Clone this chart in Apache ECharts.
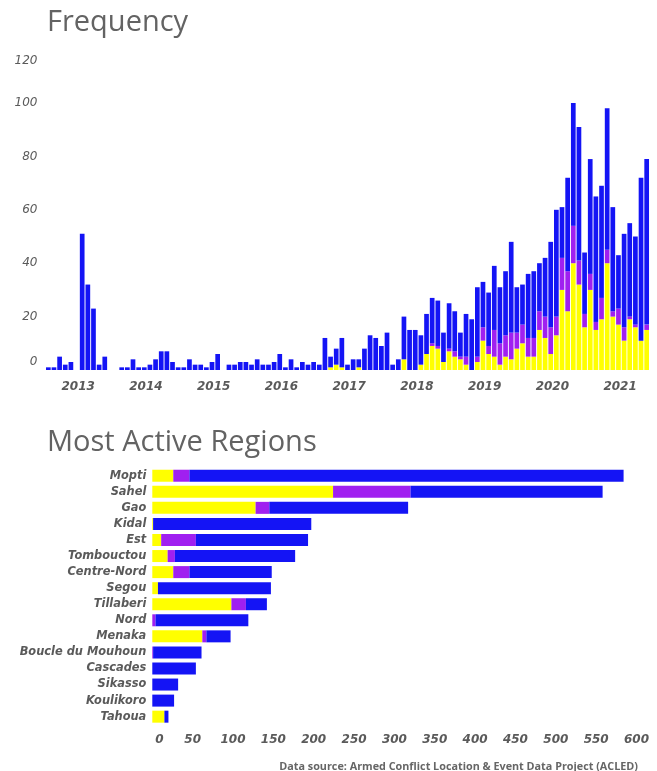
<!DOCTYPE html>
<html>
<head>
<meta charset="utf-8">
<script src="https://cdn.jsdelivr.net/npm/echarts@6.0.0/dist/echarts.min.js"></script>
<style>
html,body{margin:0;padding:0;background:#fff;}
#c{width:657px;height:771px;}
</style>
</head>
<body>
<div id="c"></div>
<script>
// ---- Frequency (monthly) ----
const months = [
  '2012-07','2012-08','2012-09','2012-10','2012-11','2012-12',
  '2013-01','2013-02','2013-03','2013-04','2013-05','2013-06','2013-07','2013-08','2013-09','2013-10','2013-11','2013-12',
  '2014-01','2014-02','2014-03','2014-04','2014-05','2014-06','2014-07','2014-08','2014-09','2014-10','2014-11','2014-12',
  '2015-01','2015-02','2015-03','2015-04','2015-05','2015-06','2015-07','2015-08','2015-09','2015-10','2015-11','2015-12',
  '2016-01','2016-02','2016-03','2016-04','2016-05','2016-06','2016-07','2016-08','2016-09','2016-10','2016-11','2016-12',
  '2017-01','2017-02','2017-03','2017-04','2017-05','2017-06','2017-07','2017-08','2017-09','2017-10','2017-11','2017-12',
  '2018-01','2018-02','2018-03','2018-04','2018-05','2018-06','2018-07','2018-08','2018-09','2018-10','2018-11','2018-12',
  '2019-01','2019-02','2019-03','2019-04','2019-05','2019-06','2019-07','2019-08','2019-09','2019-10','2019-11','2019-12',
  '2020-01','2020-02','2020-03','2020-04','2020-05','2020-06','2020-07','2020-08','2020-09','2020-10','2020-11','2020-12',
  '2021-01','2021-02','2021-03','2021-04','2021-05'
];
const freqYellow = [
  0,0,0,0,0,0,
  0,0,0,0,0,0,0,0,0,0,0,0,
  0,0,0,0,0,0,0,0,0,0,0,0,
  0,0,0,0,0,0,0,0,0,0,0,0,
  0,0,0,0,0,0,0,0,1,2,1,0,
  0,1,0,0,0,0,0,0,0,4,0,0,
  2,6,9,8,3,7,5,4,2,0,3,11,
  6,5,2,5,4,8,10,5,5,15,12,6,
  13,30,22,40,32,16,30,15,19,40,20,17,
  11,19,16,11,15
];
const freqPurple = [
  0,0,0,0,0,0,
  0,0,0,0,0,0,0,0,0,0,0,0,
  0,0,0,0,0,0,0,0,0,0,0,0,
  0,0,0,0,0,0,0,0,0,0,0,0,
  0,0,0,0,0,0,0,0,0,0,0,0,
  0,0,0,0,0,0,0,0,0,0,0,0,
  0,0,1,1,0,1,2,1,3,0,2,5,
  3,10,8,8,10,6,7,7,7,7,8,10,
  7,12,15,14,9,5,6,3,8,5,2,6,
  5,1,1,0,2
];
const freqBlue = [
  1,1,5,2,3,0,
  51,32,23,2,5,0,0,1,1,4,1,1,
  2,4,7,7,3,1,1,4,2,2,1,3,
  6,0,2,2,3,3,2,4,2,2,3,6,
  1,4,1,3,2,3,2,12,4,6,11,2,
  4,3,8,13,12,9,14,2,4,16,15,15,
  11,15,17,17,11,17,15,9,16,19,26,17,
  20,24,21,24,34,17,15,24,25,18,22,32,
  40,19,35,46,50,23,43,47,42,53,39,20,
  35,35,33,61,62
];
const freqTicks = [0,20,40,60,80,100,120];

// ---- Most Active Regions ----
const regions = ['Mopti','Sahel','Gao','Kidal','Est','Tombouctou','Centre-Nord','Segou','Tillaberi','Nord','Menaka','Boucle du Mouhoun','Cascades','Sikasso','Koulikoro','Tahoua'];
const regYellow = [26,224,128,1,11,19,26,7,98,0,62,0,0,0,0,15];
const regPurple = [20,96,17,0,43,9,20,0,18,4,5,1,0,0,0,0];
const regBlue   = [538,238,172,196,139,149,102,140,26,115,30,60,54,32,27,5];
const regTicks = [0,50,100,150,200,250,300,350,400,450,500,550,600];

const C_YELLOW = '#FFFF00';
const C_PURPLE = '#A020F0';
const C_BLUE = '#1414F5';
const LABEL_COLOR = '#5a5a5a';
const TITLE_COLOR = '#636363';
const numFont = {fontFamily:'DejaVu Sans', fontStyle:'italic', fontSize:12, color:LABEL_COLOR};

const chart = echarts.init(document.getElementById('c'), null, {renderer:'canvas'});

const option = {
  animation: false,
  backgroundColor: '#fff',
  title: [
    {text:'Frequency', left:42, top:3, textStyle:{fontFamily:'Open Sans', fontSize:29, fontWeight:'normal', color:TITLE_COLOR}},
    {text:'Most Active Regions', left:42, top:423, textStyle:{fontFamily:'Open Sans', fontSize:29, fontWeight:'normal', color:TITLE_COLOR}},
    {text:'Data source: Armed Conflict Location & Event Data Project (ACLED)', right:14, top:756, textStyle:{fontFamily:'Open Sans', fontSize:10.8, fontWeight:'bold', color:'#666'}}
  ],
  grid: [
    {left:45.5, right:7.5, top:49.6, bottom:401, containLabel:false},
    {left:152.3, right:20.5, top:467.7, height:257, containLabel:false}
  ],
  xAxis: [
    {
      type:'category', gridIndex:0, data:months,
      axisLine:{show:false}, axisTick:{show:false}, splitLine:{show:false},
      axisLabel: Object.assign({}, numFont, {
        interval:(i, v) => v.endsWith('-01'),
        formatter:v => v.slice(0,4),
        margin:11, fontWeight:'bold', padding:[0,8,0,0]
      })
    },
    {
      type:'value', gridIndex:1, min:regTicks[0], max:regTicks[regTicks.length-1], interval:50,
      axisLine:{show:false}, axisTick:{show:false}, splitLine:{show:false},
      axisLabel: Object.assign({}, numFont, {
        margin:9, fontWeight:'bold',
        formatter: v => v === 0 ? '{z|0}' : String(v),
        rich:{z:{fontFamily:'DejaVu Sans', fontStyle:'italic', fontWeight:'bold', fontSize:12, color:LABEL_COLOR, padding:[0,0,0,14]}}
      })
    }
  ],
  yAxis: [
    {
      type:'value', gridIndex:0, min:freqTicks[0], max:freqTicks[freqTicks.length-1], interval:20,
      axisLine:{show:false}, axisTick:{show:false}, splitLine:{show:false},
      axisLabel: Object.assign({}, numFont, {
        margin:8,
        formatter: v => v === 120 ? '{t|120}' : (v === 0 ? '{b|0}' : String(v)),
        rich:{
          t:{fontFamily:'DejaVu Sans', fontStyle:'italic', fontSize:12, color:LABEL_COLOR, padding:[22,0,0,0]},
          b:{fontFamily:'DejaVu Sans', fontStyle:'italic', fontSize:12, color:LABEL_COLOR, padding:[0,0,16,0]}
        }
      })
    },
    {
      type:'category', gridIndex:1, data:regions, inverse:true,
      axisLine:{show:false}, axisTick:{show:false}, splitLine:{show:false},
      axisLabel:{fontFamily:'DejaVu Sans', fontStyle:'italic', fontWeight:'bold', fontSize:11.4, color:LABEL_COLOR, margin:6}
    }
  ],
  series: [
    {name:'Yellow', type:'bar', xAxisIndex:0, yAxisIndex:0, stack:'freq', data:freqYellow, barWidth:4.7, itemStyle:{color:C_YELLOW}},
    {name:'Purple', type:'bar', xAxisIndex:0, yAxisIndex:0, stack:'freq', data:freqPurple, barWidth:4.7, itemStyle:{color:C_PURPLE}},
    {name:'Blue', type:'bar', xAxisIndex:0, yAxisIndex:0, stack:'freq', data:freqBlue, barWidth:4.7, itemStyle:{color:C_BLUE}},
    {name:'Yellow', type:'bar', xAxisIndex:1, yAxisIndex:1, stack:'reg', data:regYellow, barWidth:12, itemStyle:{color:C_YELLOW}},
    {name:'Purple', type:'bar', xAxisIndex:1, yAxisIndex:1, stack:'reg', data:regPurple, barWidth:12, itemStyle:{color:C_PURPLE}},
    {name:'Blue', type:'bar', xAxisIndex:1, yAxisIndex:1, stack:'reg', data:regBlue, barWidth:12, itemStyle:{color:C_BLUE}}
  ]
};
chart.setOption(option);
</script>
</body>
</html>
